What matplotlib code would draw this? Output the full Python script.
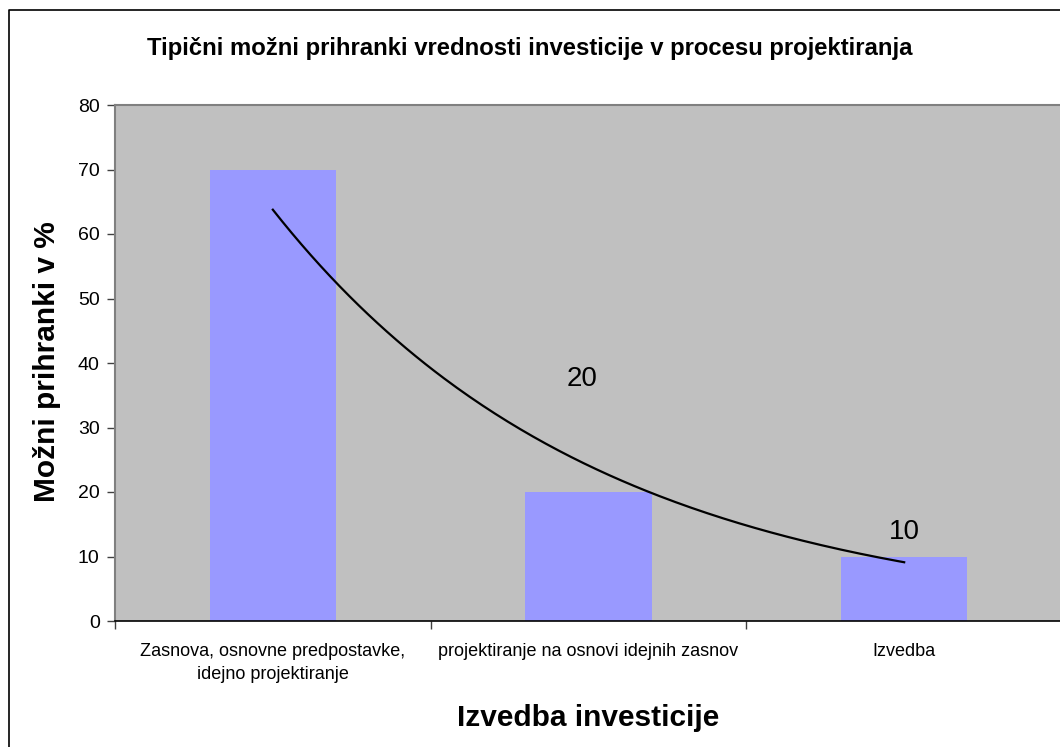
import numpy as np
import matplotlib
matplotlib.use("Agg")
import matplotlib.pyplot as plt
from matplotlib.lines import Line2D

plt.rcParams['font.family'] = ['Liberation Sans', 'DejaVu Sans']

# data
categories = ["Zasnova, osnovne predpostavke,\nidejno projektiranje",
              "projektiranje na osnovi idejnih zasnov",
              "Izvedba"]
savings = [70, 20, 10]
labelled = [1, 2]          # which bars carry a value label
y_ticks = [0, 10, 20, 30, 40, 50, 60, 70, 80]

fig = plt.figure(figsize=(10.6, 7.47), dpi=100)
ax = fig.add_axes([115 / 1060, 126 / 747, 947 / 1060, 516 / 747])
ax.set_facecolor("#C0C0C0")

x = np.arange(len(categories))
ax.bar(x, savings, width=0.4, color="#9999FF", zorder=2)

# exponential trendline (Excel style, x = 1..n)
xn = x + 1
b, ln_a = np.polyfit(xn, np.log(savings), 1)
xs = np.linspace(xn[0], xn[-1], 200)
ax.plot(xs - 1, np.exp(ln_a) * np.exp(b * xs), color="black", lw=1.6, zorder=3)

# data labels (the "20" one was dragged in the original)
offsets = {1: (-0.02, 17.5), 2: (0.0, 3.8)}
for i in labelled:
    dx, dy = offsets[i]
    ax.text(x[i] + dx, savings[i] + dy, str(savings[i]),
            ha="center", va="center", fontsize=20, zorder=4)

ax.set_xlim(-0.5, len(categories) - 0.5)
ax.set_ylim(0, 80)
ax.set_yticks(y_ticks)
ax.tick_params(axis="y", direction="out", length=6, width=1, labelsize=14,
               pad=5, color="#404040")

ax.set_xticks(np.arange(len(categories) + 1) - 0.5)
ax.set_xticklabels([])
ax.set_xticks(x, minor=True)
ax.set_xticklabels(categories, minor=True, fontsize=13, linespacing=1.45)
ax.tick_params(axis="x", which="major", direction="out", length=6,
               width=1, color="#404040")
ax.tick_params(axis="x", which="minor", length=0, pad=16)

ax.spines["top"].set_color("#808080")
ax.spines["top"].set_linewidth(1.5)
ax.spines["left"].set_color("#808080")
ax.spines["left"].set_linewidth(1.5)
ax.spines["right"].set_visible(False)
ax.spines["bottom"].set_color("black")
ax.spines["bottom"].set_linewidth(1.2)

ax.set_xlabel("Izvedba investicije", fontsize=21.5, fontweight="bold", labelpad=15)
fig.text(47 / 1060, 1 - 362 / 747, "Možni prihranki v %", rotation=90,
         ha="center", va="center", fontsize=21.5, fontweight="bold")
fig.text(0.5, 1 - 48 / 747,
         "Tipični možni prihranki vrednosti investicije v procesu projektiranja",
         ha="center", va="center", fontsize=17.2, fontweight="bold")

# chart-area frame (cropped on the right and bottom)
fx = 9 / 1060
fy = 1 - 10 / 747
fig.add_artist(Line2D([fx, fx, 1.0], [0.0, fy, fy], transform=fig.transFigure,
                      color="black", lw=1.2))

fig.savefig("out.png", dpi=100)
